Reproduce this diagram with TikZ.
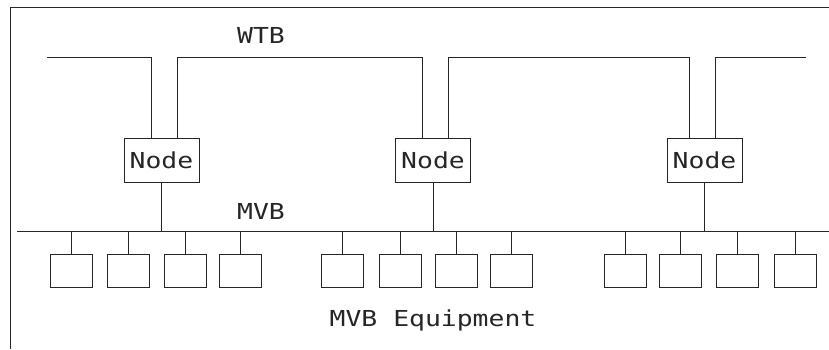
\documentclass[tikz,border=0pt]{standalone}
\usepackage{fontspec}
\newfontfamily\cadfont{DejaVu Sans Mono}[FakeStretch=1.2]
\begin{document}
\begin{tikzpicture}[x=1pt,y=-1pt, line width=0.8pt, draw=black!85,
  cadtext/.style={font=\cadfont\fontsize{22}{22}\selectfont, text=black!85},
  nodebox/.style={draw, cadtext, minimum width=75pt, minimum height=44pt, inner sep=0pt},
  eqbox/.style={draw, minimum width=42pt, minimum height=33pt, inner sep=0pt},
  lbl/.style={cadtext, inner sep=0pt, anchor=base}]
\useasboundingbox (0,0) rectangle (829,349);
% frame
\coordinate (ftl) at (10,7);
\coordinate (ftr) at (829,7);
\coordinate (fbl) at (10,349);
\draw (ftr) -- (ftl) -- (fbl);
% labels
\node[lbl] (wtb) at (261,43) {WTB};
\node[lbl] (mvb) at (261,219) {MVB};
\node[lbl] (mvbeq) at (433,326) {MVB Equipment};
% nodes
\node[nodebox] (n1) at (161.5,160) {Node};
\node[nodebox] (n2) at (433,160) {Node};
\node[nodebox] (n3) at (704.5,160) {Node};
% WTB bus
\coordinate (wy) at (0,57);
\coordinate (w0) at (47,57);
\coordinate (w4) at (806,57);
\coordinate (n1L) at ([xshift=-10.5pt]n1.north);
\coordinate (n1R) at ([xshift=15.5pt]n1.north);
\coordinate (n2L) at ([xshift=-11pt]n2.north);
\coordinate (n2R) at ([xshift=15pt]n2.north);
\coordinate (n3L) at ([xshift=-15.5pt]n3.north);
\coordinate (n3R) at ([xshift=10.5pt]n3.north);
\draw (w0) -| (n1L);
\draw (n1R) -- (n1R |- wy) -- (n2L |- wy) -- (n2L);
\draw (n2R) -- (n2R |- wy) -- (n3L |- wy) -- (n3L);
\draw (n3R) |- (w4);
% MVB bus
\coordinate (m0) at (17,231);
\coordinate (m1) at (829,231);
\draw (m0) -- (m1);
\foreach \n in {n1,n2,n3} \draw (\n.south) -- (\n.south |- m0);
% equipment
\foreach \i/\x in {1/71,2/128.5,3/185,4/240.5,5/342.5,6/400,7/456.5,8/511.5,9/625.5,10/680.5,11/737.5,12/795.5}{
  \node[eqbox] (e\i) at (\x,270.5) {};
  \draw (e\i.north) -- (e\i.north |- m0);
}
\end{tikzpicture}
\end{document}
